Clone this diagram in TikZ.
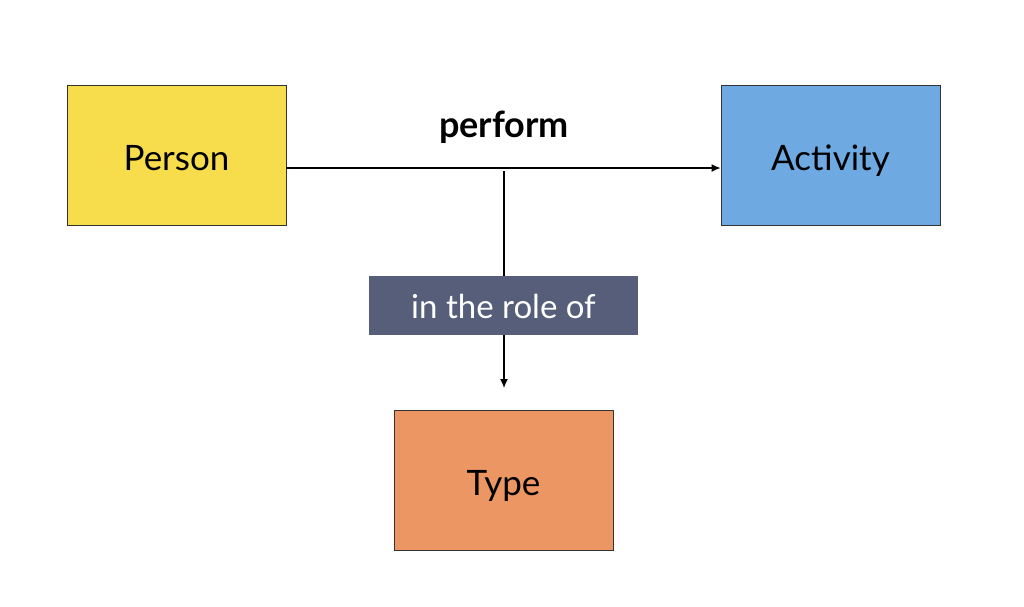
\documentclass[tikz,border=0pt]{standalone}
\usepackage{fontspec}
\setmainfont{Lato}
\usetikzlibrary{arrows.meta}
\definecolor{cyellow}{HTML}{F7DD4B}
\definecolor{cblue}{HTML}{6FA9E2}
\definecolor{corange}{HTML}{EC9663}
\definecolor{cslate}{HTML}{575E7A}
\begin{document}
\begin{tikzpicture}[x=1pt,y=-1pt,
  box/.style={draw=black!80, line width=0.8pt, minimum width=219pt, minimum height=140pt, inner sep=0pt, text height=31pt, text depth=0pt, font=\fontsize{35}{40}\selectfont},
  conn/.style={line width=1.3pt, -{Latex[length=9pt,width=8pt]}}]
\useasboundingbox (0,0) rectangle (1024,606);
\fill[white] (0,0) rectangle (1024,606);
\node[box, fill=cyellow] (person) at (176.5,155) {Person};
\node[box, fill=cblue] (activity) at (830.5,155) {Activity};
\node[box, fill=corange] (type) at (503.5,480) {Type};
\node[fill=cslate, text=white, minimum width=269pt, minimum height=59pt, inner sep=0pt, text height=25pt, text depth=0pt, font=\fontsize{33}{38}\selectfont] (role) at (503.5,305.5) {in the role of};
\node[font=\bfseries\fontsize{36}{40}\selectfont, text height=26pt, text depth=7pt, inner sep=0pt] (perform) at (504,128) {perform};
\coordinate (junc) at (504,171);
\coordinate (tip) at (504,388);
\draw[conn] (person.east |- 0,168) -- (activity.west |- 0,168);
\draw[line width=1.3pt] (junc) -- (role.north -| junc);
\draw[conn] (role.south -| junc) -- (tip);
\end{tikzpicture}
\end{document}
